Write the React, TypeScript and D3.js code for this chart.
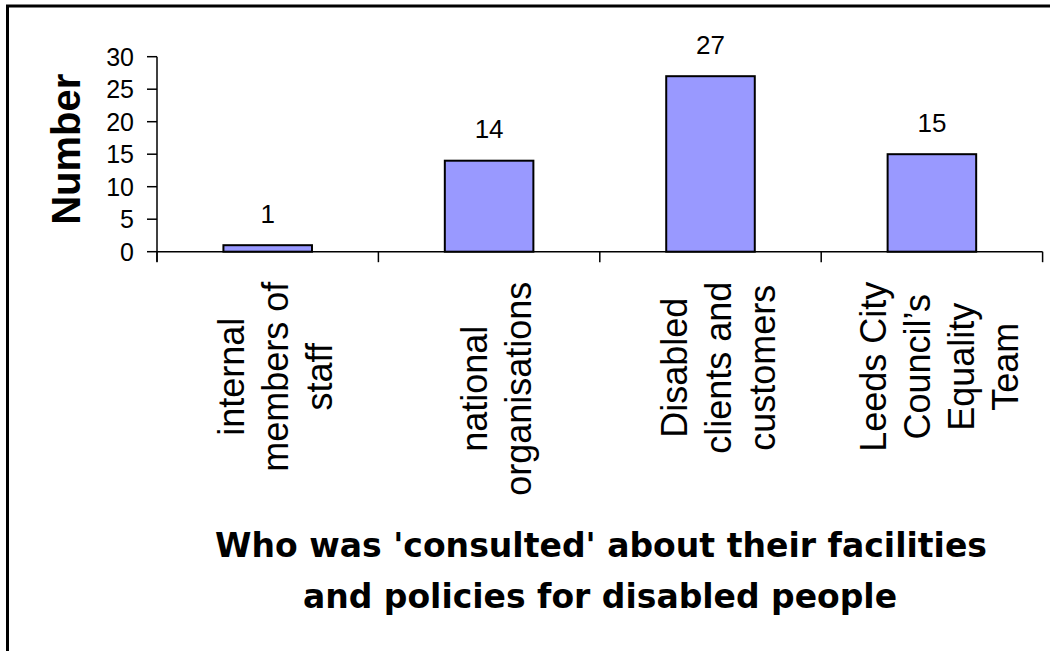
import React from "react";
import * as d3 from "d3";

const categories: string[][] = [
  ["internal", "members of", "staff"],
  ["national", "organisations"],
  ["Disabled", "clients and", "customers"],
  ["Leeds City", "Council\u2019s", "Equality", "Team"],
];
const values: number[] = [1, 14, 27, 15];
const yTicks: number[] = [0, 5, 10, 15, 20, 25, 30];
const yLabel = "Number";
const titleLines: string[] = [
  "Who was 'consulted' about their facilities",
  "and policies for disabled people",
];

const W = 1050;
const H = 651;
const plot = { left: 157, right: 1042.6, top: 56.7, bottom: 251.7 };
const catFont = 36;
const catLine = 44;

function measure(text: string, font: string): number {
  const c = document.createElement("canvas").getContext("2d");
  if (!c) return text.length * 18;
  c.font = font;
  return c.measureText(text).width;
}

export default function App() {
  const keys = categories.map((_, i) => String(i));
  const x = d3
    .scaleBand<string>()
    .domain(keys)
    .range([plot.left, plot.right])
    .paddingInner(0.6)
    .paddingOuter(0.3);
  const y = d3.scaleLinear().domain([0, 30]).range([plot.bottom, plot.top]);
  const step = x.step();
  const bw = x.bandwidth();
  const boundaries = d3.range(categories.length + 1).map((i) => plot.left + i * step);

  const labelTop = plot.bottom + 30;

  return (
    <svg
      width={W}
      height={H}
      style={{ position: "absolute", left: 0, top: 0, display: "block", background: "#fff" }}
      fontFamily='"Liberation Sans", Arial, sans-serif'
    >
      <rect x={0} y={0} width={W} height={H} fill="#fff" />
      {/* outer border (top and left visible) */}
      <rect x={7.5} y={6} width={W + 20} height={H + 20} fill="none" stroke="#000" strokeWidth={3} />

      {/* bars */}
      {values.map((v, i) => (
        <rect
          key={"b" + i}
          x={x(keys[i])!}
          y={y(v)}
          width={bw}
          height={y(0) - y(v)}
          fill="#9999FF"
          stroke="#000"
          strokeWidth={2}
        />
      ))}

      {/* value labels */}
      {values.map((v, i) => (
        <text
          key={"v" + i}
          x={x(keys[i])! + bw / 2}
          y={y(v) - 22.5}
          textAnchor="middle"
          fontSize={26}
          fill="#000"
        >
          {v}
        </text>
      ))}

      {/* y axis */}
      <line x1={plot.left} x2={plot.left} y1={plot.top} y2={plot.bottom + 10} stroke="#000" strokeWidth={1.5} />
      {yTicks.map((t) => (
        <g key={"yt" + t}>
          <line x1={plot.left - 10} x2={plot.left} y1={y(t)} y2={y(t)} stroke="#000" strokeWidth={1.5} />
          <text x={plot.left - 23} y={y(t)} dy="0.36em" textAnchor="end" fontSize={25} fill="#000">
            {t}
          </text>
        </g>
      ))}

      {/* x axis */}
      <line x1={plot.left} x2={plot.right} y1={plot.bottom} y2={plot.bottom} stroke="#000" strokeWidth={1.5} />
      {boundaries.map((bx, i) => (
        <line key={"xt" + i} x1={bx} x2={bx} y1={plot.bottom} y2={plot.bottom + 10.5} stroke="#000" strokeWidth={1.5} />
      ))}

      {/* category labels, rotated */}
      {categories.map((lines, i) => {
        const cx = x(keys[i])! + bw / 2;
        const font = `${catFont}px "Liberation Sans"`;
        const maxW = d3.max(lines, (l) => measure(l, font)) || 0;
        const cy = labelTop + maxW / 2;
        const n = lines.length;
        return (
          <g key={"c" + i}>
            {lines.map((l, j) => {
              const bx = cx + (j - (n - 1) / 2) * catLine + 20;
              return (
                <text
                  key={j}
                  transform={`translate(${bx},${cy}) rotate(-90)`}
                  textAnchor="middle"
                  fontSize={catFont}
                  fill="#000"
                >
                  {l}
                </text>
              );
            })}
          </g>
        );
      })}

      {/* y axis title */}
      <text
        transform={`translate(80,${(plot.top + plot.bottom) / 2 - 5}) rotate(-90)`}
        textAnchor="middle"
        fontSize={40}
        fontWeight="bold"
        fill="#000"
      >
        {yLabel}
      </text>

      {/* x axis title */}
      <text
        x={601}
        y={557}
        textAnchor="middle"
        fontFamily='"DejaVu Sans", Verdana, sans-serif'
        fontWeight="bold"
        fontSize={34}
        textLength={772}
        lengthAdjust="spacingAndGlyphs"
        fill="#000"
      >
        {titleLines[0]}
      </text>
      <text
        x={600}
        y={608}
        textAnchor="middle"
        fontFamily='"DejaVu Sans", Verdana, sans-serif'
        fontWeight="bold"
        fontSize={34}
        textLength={594}
        lengthAdjust="spacingAndGlyphs"
        fill="#000"
      >
        {titleLines[1]}
      </text>
    </svg>
  );
}
